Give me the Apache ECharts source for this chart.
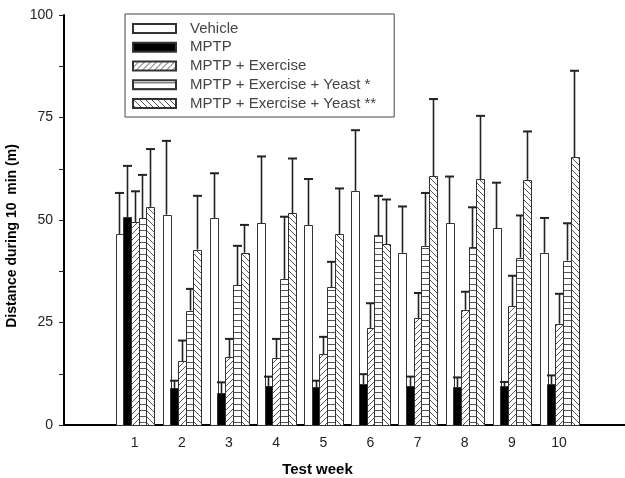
<!DOCTYPE html>
<html>
<head>
<meta charset="utf-8">
<script src="https://cdn.jsdelivr.net/npm/echarts@6/dist/echarts.min.js"></script>
<style>html,body{margin:0;padding:0;background:#fff}#c{width:625px;height:478px}</style>
</head>
<body>
<div id="c"></div>
<script>
// ---- data ----
const weeks = [1, 2, 3, 4, 5, 6, 7, 8, 9, 10];
const seriesNames = ['Vehicle', 'MPTP', 'MPTP + Exercise', 'MPTP + Exercise + Yeast *', 'MPTP + Exercise + Yeast **'];
const vehicleMean = [46.6, 51.3, 50.5, 49.2, 48.8, 57.1, 42.0, 49.2, 48.0, 42.0];
const vehicleErr  = [10.0, 18.0, 10.9, 16.3, 11.2, 14.8, 11.3, 11.4, 11.1, 8.5];
const mptpMean    = [50.7, 9.0, 7.8, 9.4, 9.2, 10.0, 9.4, 9.2, 9.5, 10.0];
const mptpErr     = [12.5, 1.8, 2.6, 2.4, 1.6, 2.4, 2.4, 2.4, 1.0, 2.1];
const exMean      = [49.5, 15.6, 16.5, 16.3, 17.3, 23.6, 26.1, 28.1, 29.0, 24.7];
const exErr       = [7.5, 5.0, 4.5, 4.7, 4.2, 6.1, 6.1, 4.4, 7.4, 7.3];
const yeast1Mean  = [50.4, 27.9, 34.1, 35.6, 33.6, 46.3, 43.7, 43.3, 40.8, 40.1];
const yeast1Err   = [10.6, 5.3, 9.6, 15.2, 6.2, 9.6, 12.9, 9.8, 10.3, 9.1];
const yeast2Mean  = [53.2, 42.8, 42.0, 51.6, 46.6, 44.1, 60.7, 60.0, 59.8, 65.3];
const yeast2Err   = [14.1, 13.1, 6.8, 13.4, 11.1, 10.9, 18.8, 15.4, 11.8, 21.1];
const yTicks = [0, 25, 50, 75, 100];

const means = [vehicleMean, mptpMean, exMean, yeast1Mean, yeast2Mean];
const errs = [vehicleErr, mptpErr, exErr, yeast1Err, yeast2Err];

// ---- fills ----
function makePattern(type) {
  const s = 6;
  const c = document.createElement('canvas');
  c.width = s; c.height = s;
  const ctx = c.getContext('2d');
  ctx.fillStyle = '#fff'; ctx.fillRect(0, 0, s, s);
  ctx.strokeStyle = '#555'; ctx.lineWidth = 1;
  ctx.beginPath();
  if (type === 'fwd') {
    ctx.moveTo(0, s); ctx.lineTo(s, 0);
    ctx.moveTo(-1, 1); ctx.lineTo(1, -1);
    ctx.moveTo(s - 1, s + 1); ctx.lineTo(s + 1, s - 1);
  } else if (type === 'back') {
    ctx.moveTo(0, 0); ctx.lineTo(s, s);
    ctx.moveTo(-1, s - 1); ctx.lineTo(1, s + 1);
    ctx.moveTo(s - 1, -1); ctx.lineTo(s + 1, 1);
  } else {
    ctx.moveTo(0, 2.5); ctx.lineTo(s, 2.5);
  }
  ctx.stroke();
  return { image: c, repeat: 'repeat' };
}
const fills = ['#ffffff', '#000000', makePattern('fwd'), makePattern('horiz'), makePattern('back')];

const BW = 0.163; // bar width in week units
const FONT = 'Liberation Sans, Arial, sans-serif';

function renderItem(params, api) {
  const si = params.seriesIndex;
  const x = api.value(0) + (si - 2) * BW;
  const m = api.value(1), e = api.value(2);
  const p0 = api.coord([x - BW / 2, 0]);
  const p1 = api.coord([x + BW / 2, m]);
  const top = api.coord([x, m]);
  const et = api.coord([x, m + e]);
  const cx = Math.round(top[0]) + 0.5;
  const cap = 4.5;
  return {
    type: 'group',
    children: [
      { type: 'rect', shape: { x: Math.round(p0[0]) + 0.5, y: Math.round(p1[1]) + 0.5, width: Math.round(p1[0] - p0[0]), height: Math.round(p0[1]) - Math.round(p1[1]) },
        style: { fill: fills[si], stroke: '#333', lineWidth: 1 } },
      { type: 'line', shape: { x1: cx, y1: top[1], x2: cx, y2: et[1] }, style: { stroke: '#222', lineWidth: 1.6 } },
      { type: 'line', shape: { x1: cx - cap, y1: et[1], x2: cx + cap, y2: et[1] }, style: { stroke: '#222', lineWidth: 2 } }
    ]
  };
}

const series = seriesNames.map((name, i) => ({
  name: name,
  type: 'custom',
  renderItem: renderItem,
  itemStyle: { color: fills[i], borderColor: '#333', borderWidth: 1 },
  encode: { x: 0, y: 1 },
  data: weeks.map((w, k) => [w, means[i][k], errs[i][k]]),
  z: 2
}));

const chart = echarts.init(document.getElementById('c'), null, { renderer: 'canvas' });
chart.setOption({
  animation: false,
  backgroundColor: '#fff',
  grid: { left: 64, right: 0, top: 15, bottom: 53, containLabel: false, outerBoundsMode: 'none' },
  legend: {
    orient: 'vertical', left: 125, top: 14,
    padding: [7, 18, 6, 7],
    itemWidth: 43, itemHeight: 9, itemGap: 3.75,
    icon: 'rect',
    borderColor: '#444', borderWidth: 1,
    textStyle: { fontFamily: FONT, fontSize: 15, color: '#444', lineHeight: 15, padding: [0, 0, 0, 9] },
    data: seriesNames,
    selectedMode: false
  },
  xAxis: {
    type: 'value', min: -0.5, max: 11.4,
    name: 'Test week', nameLocation: 'middle', nameGap: 37,
    nameTextStyle: { fontFamily: FONT, fontSize: 15, fontWeight: 'bold', color: '#000', padding: [0, 54, 0, 0] },
    axisLine: { show: true, onZero: false, lineStyle: { color: '#000', width: 2 } },
    axisTick: { show: false },
    splitLine: { show: false },
    axisLabel: { customValues: weeks, margin: 11, fontFamily: FONT, fontSize: 14, color: '#222' }
  },
  yAxis: {
    type: 'value', min: 0, max: 100, interval: 25,
    name: 'Distance during 10  min (m)', nameLocation: 'middle', nameGap: 34, nameRotate: 90,
    nameTextStyle: { fontFamily: FONT, fontSize: 14, fontWeight: 'bold', color: '#000', padding: [0, 32, 0, 0] },
    axisLine: { show: true, onZero: false, lineStyle: { color: '#000', width: 2 } },
    axisTick: { show: true, length: 5, lineStyle: { color: '#222', width: 1 } },
    minorTick: { show: true, splitNumber: 2, length: 5, lineStyle: { color: '#222', width: 1 } },
    splitLine: { show: false },
    axisLabel: { margin: 11, fontFamily: FONT, fontSize: 14, color: '#222',
      formatter: v => (yTicks.indexOf(v) >= 0 ? String(v) : '') }
  },
  series: series
});
</script>
</body>
</html>
